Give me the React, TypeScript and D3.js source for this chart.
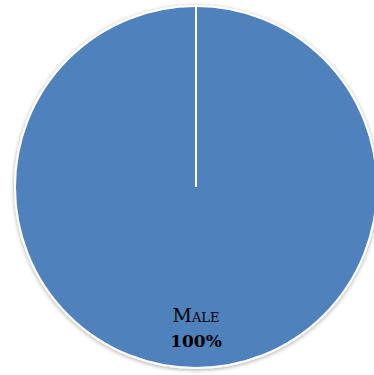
import React from "react";
import * as d3 from "d3";

const categories = ["Male", "Female"];
const values = [100, 0];
const percentLabels = ["100%", "0%"];

const W = 374;
const H = 375;
const cx = 196;
const cy = 187;
const R = 181;

export default function App() {
  const pie = d3.pie<number>().sort(null).value((d) => d);
  const arcs = pie(values);
  const arcGen = d3.arc<d3.PieArcDatum<number>>().innerRadius(0).outerRadius(R);
  const labelArc = d3.arc<d3.PieArcDatum<number>>().innerRadius(R * 0.79).outerRadius(R * 0.79);

  return (
    <svg width={W} height={H} style={{ position: "absolute", left: 0, top: 0 }}>
      <defs>
        <filter id="sh" x="-10%" y="-10%" width="120%" height="120%">
          <feGaussianBlur in="SourceAlpha" stdDeviation="2" />
          <feOffset dx="0" dy="1" result="b" />
          <feComponentTransfer>
            <feFuncA type="linear" slope="0.35" />
          </feComponentTransfer>
          <feMerge>
            <feMergeNode />
            <feMergeNode in="SourceGraphic" />
          </feMerge>
        </filter>
      </defs>
      <g transform={`translate(${cx},${cy})`}>
        <g filter="url(#sh)">
          {arcs.map((a, i) =>
            a.value > 0 ? (
              <path key={i} d={arcGen(a) || ""} fill="#4F81BD" stroke="#ffffff" strokeWidth={2} />
            ) : null
          )}
        </g>
        {arcs.map((a, i) => {
          const ang = a.startAngle;
          return (
            <line
              key={"l" + i}
              x1={0}
              y1={0}
              x2={R * Math.sin(ang)}
              y2={-R * Math.cos(ang)}
              stroke="#ffffff"
              strokeWidth={2}
            />
          );
        })}
        {arcs.map((a, i) => {
          if (a.value <= 0) return null;
          const [lx, ly] = labelArc.centroid(a);
          return (
            <g key={"t" + i} transform={`translate(${lx},${ly})`}>
              <text
                textAnchor="middle"
                y={-8}
                fontFamily="DejaVu Serif"
                fontSize={19}
                style={{ fontVariant: "small-caps" }}
                fill="#000"
              >
                {categories[i]}
              </text>
              <text
                textAnchor="middle"
                y={17}
                fontFamily="DejaVu Serif"
                fontSize={17}
                fontWeight="bold"
                fill="#000"
              >
                {percentLabels[i]}
              </text>
            </g>
          );
        })}
      </g>
    </svg>
  );
}
